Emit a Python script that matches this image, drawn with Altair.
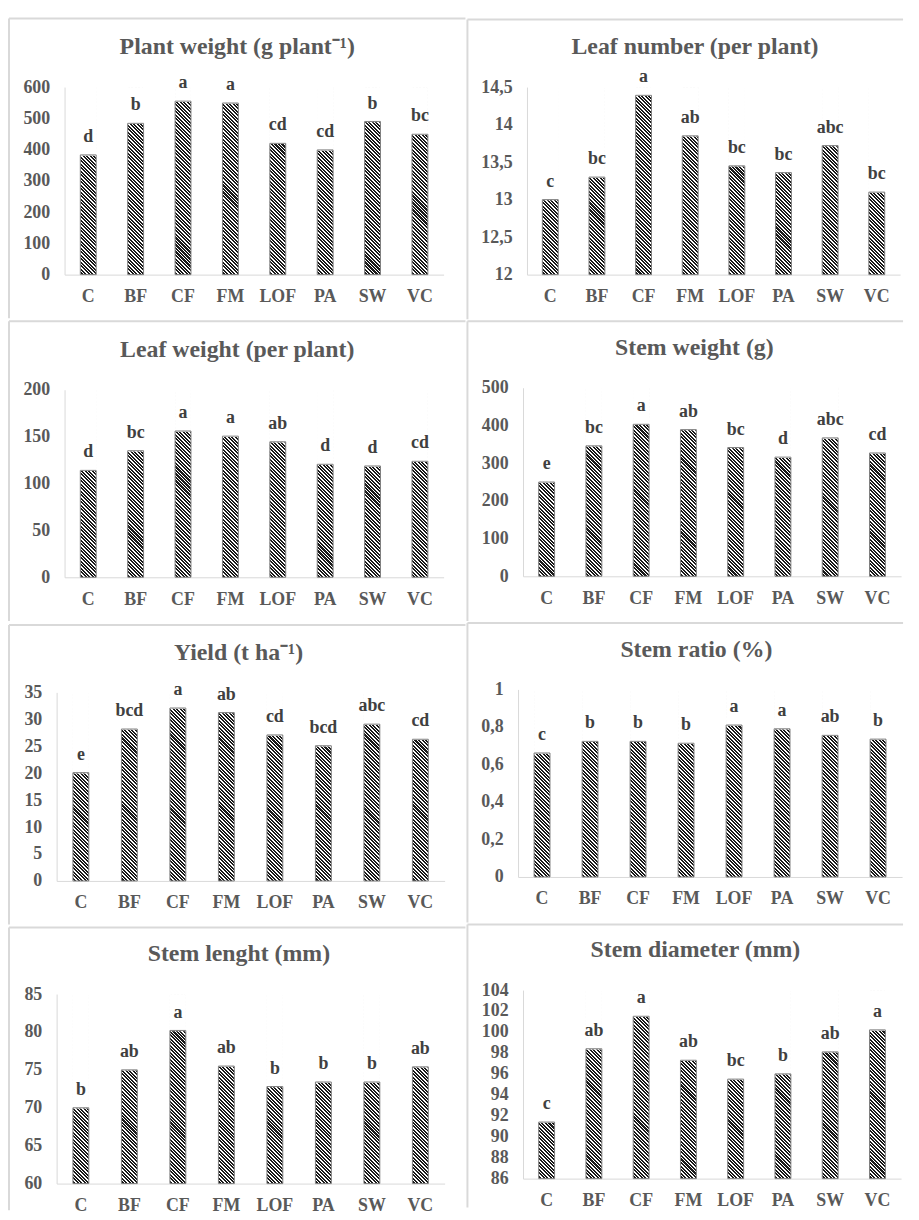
import altair as alt
import pandas as pd

# ---------------- data ----------------
categories = ["C", "BF", "CF", "FM", "LOF", "PA", "SW", "VC"]

titles = [
    "Plant weight (g plant\u207b\u00b9)",
    "Leaf number (per plant)",
    "Leaf weight (per plant)",
    "Stem weight (g)",
    "Yield (t ha\u207b\u00b9)",
    "Stem ratio (%)",
    "Stem lenght (mm)",
    "Stem diameter (mm)",
]

plant_weight = [383, 484, 555, 549, 420, 399, 490, 449]
plant_weight_letters = ["d", "b", "a", "a", "cd", "cd", "b", "bc"]
plant_weight_ticks = [0, 100, 200, 300, 400, 500, 600]

leaf_number = [13.0, 13.3, 14.39, 13.85, 13.45, 13.36, 13.72, 13.1]
leaf_number_letters = ["c", "bc", "a", "ab", "bc", "bc", "abc", "bc"]
leaf_number_ticks = [12, 12.5, 13, 13.5, 14, 14.5]

leaf_weight = [114, 135, 156, 150.5, 144.5, 120.5, 118.7, 123.7]
leaf_weight_letters = ["d", "bc", "a", "a", "ab", "d", "d", "cd"]
leaf_weight_ticks = [0, 50, 100, 150, 200]

stem_weight = [250, 346, 403, 389, 341.5, 316, 367, 327]
stem_weight_letters = ["e", "bc", "a", "ab", "bc", "d", "abc", "cd"]
stem_weight_ticks = [0, 100, 200, 300, 400, 500]

yield_t = [20.1, 28.2, 32.1, 31.25, 27.1, 25.1, 29.1, 26.3]
yield_letters = ["e", "bcd", "a", "ab", "cd", "bcd", "abc", "cd"]
yield_ticks = [0, 5, 10, 15, 20, 25, 30, 35]

stem_ratio = [0.661, 0.723, 0.723, 0.713, 0.81, 0.79, 0.755, 0.735]
stem_ratio_letters = ["c", "b", "b", "b", "a", "a", "ab", "b"]
stem_ratio_ticks = [0, 0.2, 0.4, 0.6, 0.8, 1]

stem_length = [70.0, 75.0, 80.2, 75.5, 72.8, 73.4, 73.4, 75.4]
stem_length_letters = ["b", "ab", "a", "ab", "b", "b", "b", "ab"]
stem_length_ticks = [60, 65, 70, 75, 80, 85]

stem_diameter = [91.4, 98.4, 101.5, 97.3, 95.5, 96.0, 98.1, 100.2]
stem_diameter_letters = ["c", "ab", "a", "ab", "bc", "b", "ab", "a"]
stem_diameter_ticks = [86, 88, 90, 92, 94, 96, 98, 100, 102, 104]

series = [
    (plant_weight, plant_weight_letters, plant_weight_ticks),
    (leaf_number, leaf_number_letters, leaf_number_ticks),
    (leaf_weight, leaf_weight_letters, leaf_weight_ticks),
    (stem_weight, stem_weight_letters, stem_weight_ticks),
    (yield_t, yield_letters, yield_ticks),
    (stem_ratio, stem_ratio_letters, stem_ratio_ticks),
    (stem_length, stem_length_letters, stem_length_ticks),
    (stem_diameter, stem_diameter_letters, stem_diameter_ticks),
]

# ---------------- layout / style ----------------
# (axis inset from frame left, top inset, plot width, plot height,
#  frame width, frame height, title centre from frame left)
layout = [
    (57, 70, 382, 189, 462, 304, 231),
    (61, 69, 376, 189, 441, 304, 230.3),
    (57, 70, 382, 189, 462, 304, 231),
    (57, 68, 381, 190, 441, 304, 229.7),
    (49, 69, 391, 190, 462, 304, 232.3),
    (52, 68, 387, 189, 441, 304, 231.7),
    (49, 68, 391, 191, 462, 287, 232.7),
    (57, 67, 381, 190, 441, 287, 230.7),
]
ORIGIN = [57, 61]   # common origin inset per column (Vega aligns origins)

FONT = "Liberation Serif"
TEXT_GREY = "#595959"
LINE_GREY = "#d9d9d9"
BAR_W = 16
TITLE_GAP = 32      # title baseline distance above the plot top
TITLE_SHIFT = 23    # empirical correction of Vega's title placement


def stripes(bw, h, period=2.5, dark="#1a1a1a", light="#ffffff", frac=0.58):
    r = bw / h
    k = (1 + r) / (1 + r * r)
    dist = (h + bw) / 2 ** 0.5
    n = max(1, int(round(dist / period)))
    stops = []
    for i in range(n):
        t0, t1, t2 = i / n, (i + frac) / n, (i + 1) / n
        stops += [
            {"offset": t0, "color": dark},
            {"offset": t1, "color": dark},
            {"offset": t1, "color": light},
            {"offset": t2, "color": light},
        ]
    return {"gradient": "linear", "stops": stops,
            "x1": 1, "y1": 0, "x2": 1 - k * r, "y2": k}


def panel(idx, title, values, letters, ticks, lay):
    La, T, W, H, FW, FH, tc = lay
    Lc = ORIGIN[idx % 2]
    off = Lc - La                # axis pushed left of the group origin
    gw = W - off                 # group width
    B = FH - T - H
    dmin, dmax = ticks[0], ticks[-1]
    df = pd.DataFrame({"cat": categories, "v": values, "lab": letters,
                       "top": [dmax] * len(categories),
                       "bot": [dmin] * len(categories)})
    step = W / len(categories)
    pin = 1 - BAR_W / step

    xenc = alt.X("cat:N", sort=categories,
                 scale=alt.Scale(paddingInner=pin, paddingOuter=pin / 2,
                                 range=[-off, gw]),
                 axis=alt.Axis(title=None, labelAngle=0, ticks=False,
                               labelPadding=13, domainColor=LINE_GREY,
                               domainWidth=1, labelFont=FONT, labelFontSize=18,
                               labelFontWeight="bold", labelColor=TEXT_GREY))
    yscale = alt.Scale(domain=[dmin, dmax], zero=False, nice=False)
    yaxis = alt.Axis(title=None, values=ticks, grid=False, ticks=False, offset=off,
                     labelPadding=15, domainColor=LINE_GREY, domainWidth=1,
                     labelFont=FONT, labelFontSize=18, labelFontWeight="bold",
                     labelColor=TEXT_GREY,
                     labelExpr="replace(toString(datum.value), '.', ',')")

    one = pd.DataFrame({"a": [1]})
    fx0, fx1 = -Lc, FW - Lc
    frame = alt.Chart(one).mark_rect(fillOpacity=0, strokeOpacity=0).encode(
        x=alt.value(fx0), x2=alt.value(fx1), y=alt.value(-T), y2=alt.value(H + B))
    top_rule = alt.Chart(one).mark_rule(color=LINE_GREY, strokeWidth=2).encode(
        x=alt.value(fx0 + 1), x2=alt.value(fx1 - 1), y=alt.value(-T + 1))
    left_rule = alt.Chart(one).mark_rule(color=LINE_GREY, strokeWidth=2).encode(
        x=alt.value(fx0 + 1), y=alt.value(-T + 1), y2=alt.value(H + B - 1))

    base = alt.Chart(df)
    striped = base.mark_bar(fill=stripes(BAR_W, H), strokeWidth=0).encode(
        x=xenc,
        y=alt.Y("top:Q", scale=yscale, axis=yaxis),
        y2="bot:Q")
    mask = base.mark_bar(fill="white", stroke="white", strokeWidth=1.5).encode(
        x=xenc,
        y=alt.Y("top:Q", scale=yscale, axis=yaxis),
        y2="v:Q")
    outline = base.mark_bar(fillOpacity=0, stroke="#7f7f7f", strokeWidth=1).encode(
        x=xenc,
        y=alt.Y("v:Q", scale=yscale, axis=yaxis),
        y2="bot:Q")
    labels = base.mark_text(font=FONT, fontSize=18, fontWeight="bold",
                            color="#404040", baseline="alphabetic", dy=-13).encode(
        x=xenc,
        y=alt.Y("v:Q", scale=yscale, axis=yaxis),
        text="lab:N")

    tdx = (tc - Lc) - gw / 2
    return alt.layer(frame, top_rule, left_rule, striped, mask, outline, labels).properties(
        width=gw, height=H,
        title=alt.TitleParams(text=title, font=FONT, fontSize=24, fontWeight="bold",
                              color=TEXT_GREY, anchor="middle", dx=tdx,
                              baseline="alphabetic",
                              offset=TITLE_GAP - T - TITLE_SHIFT))


panels = [panel(i, t, s[0], s[1], s[2], lay)
          for i, (t, s, lay) in enumerate(zip(titles, series, layout))]

chart = alt.concat(*panels, columns=2, spacing=0, align="none", bounds="full").properties(
    padding={"left": 0, "top": 5, "right": 0, "bottom": 0},
    background="white",
).configure_view(stroke=None)

chart.save("out.html", embed_options={"renderer": "svg", "actions": False})
